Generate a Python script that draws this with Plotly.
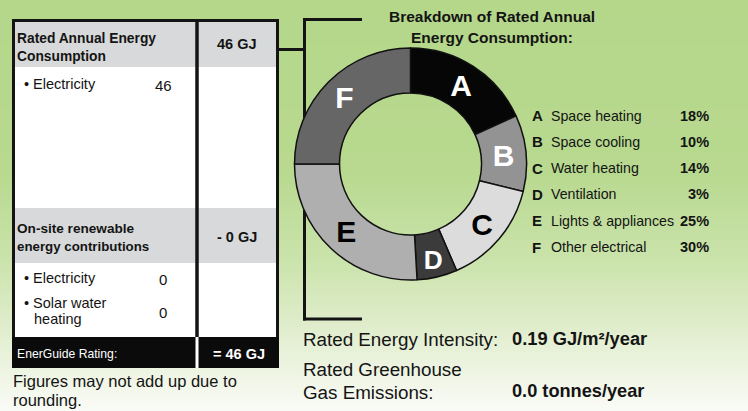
import plotly.graph_objects as go

W, H = 748, 411

# ---------------- data ----------------
slice_letters = ["A", "B", "C", "D", "E", "F"]
end_uses = ["Space heating", "Space cooling", "Water heating", "Ventilation",
            "Lights & appliances", "Other electrical"]
end_use_pct = [18, 10, 14, 3, 25, 30]
# ring proportions as drawn in the picture (the printed ring is not to scale)
ring_drawn_pct = [18.2, 10.6, 14.7, 5.6, 25.9, 25.0]

consumption_total_gj = 46
consumption_items = ["Electricity"]
consumption_values = [46]
renewable_total_gj = 0
renewable_items = [["Electricity"], ["Solar water", "heating"]]
renewable_values = [0, 0]
energuide_rating_gj = 46
energy_intensity = 0.19
ghg_emissions = 0.0

# ---------------- styles ----------------
FONT = "Liberation Sans, Arial, Helvetica, sans-serif"
INK = "#141414"
slice_colors = ["#060606", "#939393", "#dcdcdc", "#3b3b3b", "#afafaf", "#666666"]
slice_text_colors = ["white", "white", "black", "white", "black", "white"]


def px(x):
    return x / W


def py(y):
    return 1 - y / H


shapes = []
annotations = []


def rect(x0, y0, x1, y1, fill, layer="below"):
    shapes.append(dict(type="rect", xref="paper", yref="paper", x0=px(x0), x1=px(x1),
                       y0=py(y1), y1=py(y0), fillcolor=fill, line=dict(width=0), layer=layer))


def line(x0, y0, x1, y1, width=3, color=INK, layer="below"):
    shapes.append(dict(type="line", xref="paper", yref="paper", x0=px(x0), x1=px(x1),
                       y0=py(y0), y1=py(y1), line=dict(color=color, width=width), layer=layer))


def txt(x, y, s, size, bold=False, color=INK, anchor="left"):
    annotations.append(dict(x=px(x), y=py(y), xref="paper", yref="paper", text=s,
                            showarrow=False, xanchor=anchor, yanchor="middle",
                            borderpad=0,
                            font=dict(size=size, color=color, family=FONT,
                                      weight="bold" if bold else "normal")))


# background gradient (green at top fading to white at bottom)
stops = [(0, (180, 215, 138)), (170, (184, 217, 143)), (260, (203, 227, 172)),
         (330, (226, 238, 207)), (411, (250, 251, 247))]
band = 4
for y in range(0, H, band):
    for (ya, ca), (yb, cb) in zip(stops[:-1], stops[1:]):
        if ya <= y < yb:
            t = (y - ya) / (yb - ya)
            c = tuple(round(a + (b - a) * t) for a, b in zip(ca, cb))
            break
    rect(0, y, W, y + band + 0.5, "rgb(%d,%d,%d)" % c)

# ---------------- table ----------------
rect(15, 22, 276, 337, "white")
rect(15, 22, 276, 67, "#d8d9da")
rect(15, 208, 276, 263, "#d8d9da")
rect(12, 337, 279, 368, "#0b0b0b")
line(13.5, 20.5, 277.5, 20.5)
line(13.5, 19, 13.5, 337)
line(277.5, 19, 277.5, 337)
line(197, 20, 197, 337, width=3.5)
line(197, 337, 197, 368, width=3, color="white")
# connector + bracket
line(279, 49.5, 306, 49.5)
line(304.5, 18, 304.5, 320.5)
line(303, 19.5, 362, 19.5)
line(303, 319, 362, 319)

# table text
txt(16, 38, "Rated Annual Energy", 13.8, bold=True)
txt(16, 56, "Consumption", 13.8, bold=True)
txt(237, 44, f"{consumption_total_gj} GJ", 14.5, bold=True, anchor="center")
for i, (item, v) in enumerate(zip(consumption_items, consumption_values)):
    txt(23, 84 + 24 * i, "• " + item, 14.5)
    txt(163, 86 + 24 * i, f"{v}", 15, anchor="center")

txt(16, 228, "On-site renewable", 13.6, bold=True)
txt(16, 246, "energy contributions", 13.3, bold=True)
txt(237, 237, f"- {renewable_total_gj} GJ", 14.5, bold=True, anchor="center")
row_y = [278, 303]
for lines_, v, y in zip(renewable_items, renewable_values, row_y):
    txt(23, y, "• " + lines_[0], 14.5)
    for k, extra in enumerate(lines_[1:]):
        txt(33, y + 16 * (k + 1), extra, 14.5)
    txt(163, y + 8 * (len(lines_) - 1) + 1, f"{v}", 15, anchor="center")

txt(16, 354, "EnerGuide Rating:", 12.2, color="white")
txt(239, 354, f"= {energuide_rating_gj} GJ", 14.5, bold=True, color="white", anchor="center")
txt(12, 381, "Figures may not add up due to", 16.5)
txt(12, 400, "rounding.", 16.5)

# ---------------- donut title + legend ----------------
txt(492, 17, "Breakdown of Rated Annual", 15.5, bold=True, anchor="center")
txt(492, 37, "Energy Consumption:", 15.5, bold=True, anchor="center")

legend_y0, legend_dy = 115.5, 26.3
for i, (letter, name, pct) in enumerate(zip(slice_letters, end_uses, end_use_pct)):
    y = legend_y0 + legend_dy * i
    txt(531, y, letter, 15, bold=True)
    txt(550, y, name, 14.2)
    txt(710, y, f"{pct}%", 14.5, bold=True, anchor="right")

# ---------------- intensity / GHG ----------------
txt(302, 339, "Rated Energy Intensity:", 18.8)
txt(511, 338, f"{energy_intensity:.2f} GJ/m²/year", 18.3, bold=True)
txt(302, 369, "Rated Greenhouse", 18.8)
txt(302, 392, "Gas Emissions:", 18.8)
txt(511, 391, f"{ghg_emissions:.1f} tonnes/year", 18.2, bold=True)

# ---------------- donut ----------------
cx, cy, r = 410.5, 164, 116
fig = go.Figure(go.Pie(
    values=ring_drawn_pct,
    labels=slice_letters,
    sort=False,
    direction="clockwise",
    rotation=0,
    hole=0.612,
    textinfo="label",
    textposition="inside",
    insidetextorientation="horizontal",
    textfont=dict(size=30, color=slice_text_colors, family=FONT, weight="bold"),
    marker=dict(colors=slice_colors, line=dict(color="#111111", width=1.5)),
    domain=dict(x=[px(cx - r), px(cx + r)], y=[py(cy + r), py(cy - r)]),
    showlegend=False,
    hoverinfo="skip",
))

fig.update_layout(
    width=W, height=H,
    margin=dict(l=0, r=0, t=0, b=0),
    paper_bgcolor="rgb(180,215,138)",
    plot_bgcolor="rgba(0,0,0,0)",
    shapes=shapes,
    annotations=annotations,
    showlegend=False,
)

fig.write_html("out.html", config={"displayModeBar": False},
               post_script="document.body.style.margin='0px';")
